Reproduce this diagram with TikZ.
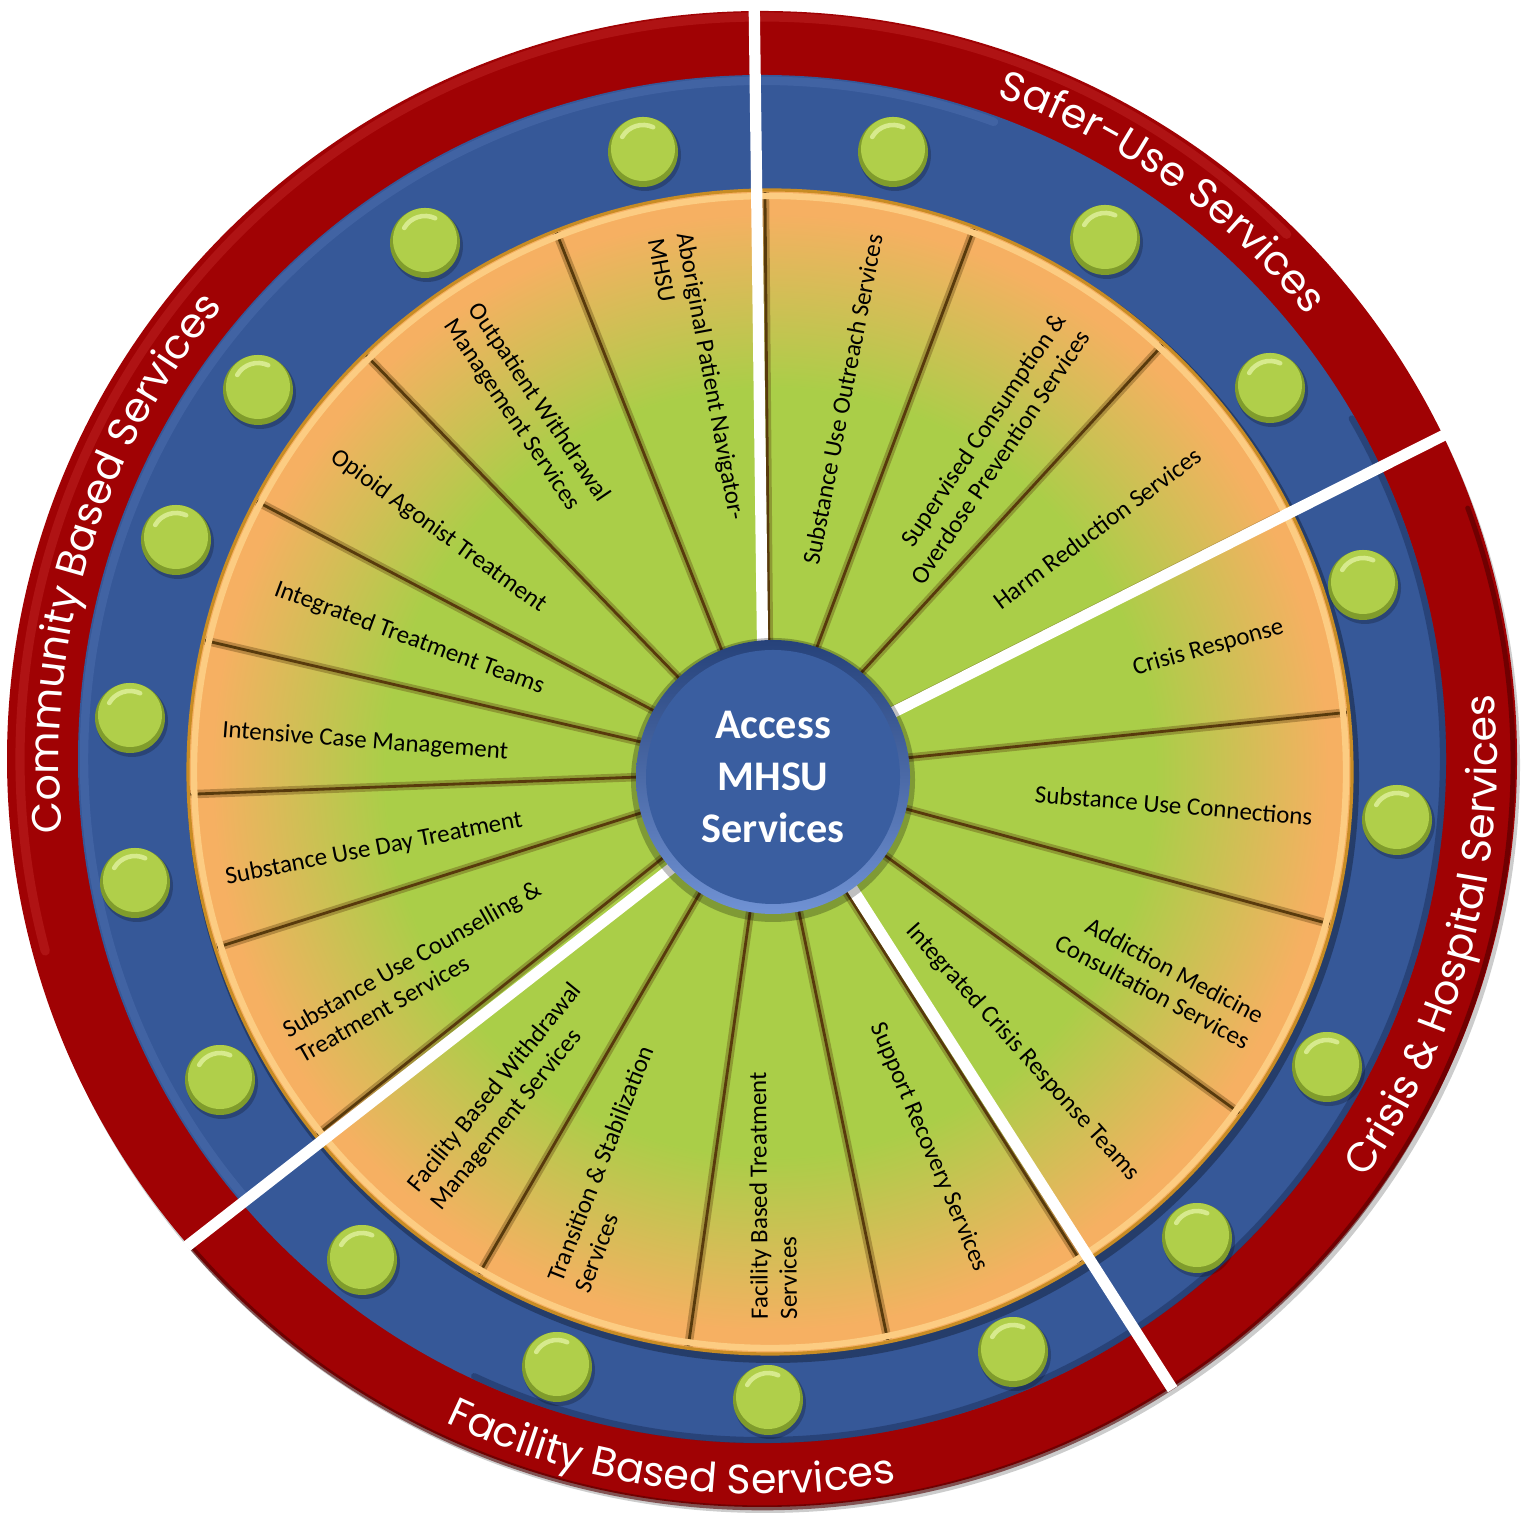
\documentclass[tikz,border=0pt]{standalone}
\usepackage{fontspec}
\setmainfont{Carlito}
\newfontfamily\ringfont{Poppins}
\usetikzlibrary{decorations.text,calc}
\definecolor{redring}{RGB}{160,2,4}
\definecolor{redhi}{RGB}{210,60,60}
\definecolor{reddark}{RGB}{80,0,0}
\definecolor{bluering}{RGB}{54,88,152}
\definecolor{bluehi}{RGB}{88,120,186}
\definecolor{bluedark}{RGB}{28,48,92}
\definecolor{pgreen}{RGB}{170,206,72}
\definecolor{porange}{RGB}{246,176,98}
\definecolor{rimlight}{RGB}{252,204,130}
\definecolor{rimgold}{RGB}{200,140,36}
\definecolor{seam}{RGB}{88,58,12}
\definecolor{ballmid}{RGB}{176,207,74}
\definecolor{balldark}{RGB}{128,156,44}
\definecolor{ballhi}{RGB}{220,238,150}
\definecolor{hubblue}{RGB}{58,94,160}
\definecolor{hubdark}{RGB}{38,66,122}
\definecolor{hubhi}{RGB}{112,146,212}
\pgfdeclareradialshading{pieshade}{\pgfpoint{0bp}{0bp}}{%
  color(0bp)=(pgreen); color(16.5bp)=(pgreen); color(24bp)=(porange); color(25bp)=(porange); color(50bp)=(porange)}
\tikzset{
  sep/.style={white, line width=3.2pt},
  seamshadow/.style={seam, line width=2.4pt, opacity=.35},
  seamline/.style={seam, line width=0.8pt},
  lablR/.style={anchor=east, align=right, font=\fontsize{7.1}{8.3}\selectfont, inner sep=0pt},
  lablL/.style={anchor=west, align=left, font=\fontsize{7.1}{8.3}\selectfont, inner sep=0pt},
  hubtext/.style={text=white, align=center, font=\bfseries\fontsize{12}{14.7}\selectfont},
  ringtext/.style={decorate, decoration={text along path, text align=center, text color=white, text={#1}}},
  pics/greenball/.style={code={
    \fill[black, opacity=.22] (2,-3) circle (36);
    \fill[balldark] (0,0) circle (35);
    \fill[ballmid] (0,3) circle (32);
    \draw[ballhi, line width=1.3pt, line cap=round, opacity=.9] (150:24) ++(0,3) arc[start angle=150, end angle=65, radius=24];
  }}
}
\begin{document}
\begin{tikzpicture}[x=0.01cm, y=0.01cm]
\useasboundingbox (0,0) rectangle (1528,1519);
\coordinate (O) at (762,760);
\coordinate (P) at (770,747);
\coordinate (H) at (773,742);
% outer red ring
\fill[black, opacity=.2] (765,754) ellipse [x radius=755, y radius=748];
\fill[redring] (O) ellipse [x radius=755, y radius=748];
\draw[redhi, line width=2.6pt, opacity=.3, line cap=round] (O) ++(45:742) arc[start angle=45, end angle=195, radius=742];
\draw[reddark, line width=1.4pt, opacity=.6, line cap=round] (O) ++(-140:751) arc[start angle=-140, end angle=20, x radius=751, y radius=745];
% blue ring
\fill[bluering] (O) circle (684);
\draw[bluehi, line width=2.4pt, opacity=.35, line cap=round] (O) ++(70:678) arc[start angle=70, end angle=220, radius=678];
\draw[bluedark, line width=1.8pt, opacity=.5, line cap=round] (O) ++(-115:681) arc[start angle=-115, end angle=30, radius=681];
% pie
\fill[black, opacity=.3] (773,742) circle (586);
\shade[shading=pieshade] (P) circle (582);
\foreach \b in {90.5,111.6,134.1,152.2,166.9,182.2,197.6,218.7,239.9,261.9,281.7,302.4,324,344.8,5.9,26.7,47.4,69.4}{
  \draw[seamshadow] (P) -- ++(\b:580);
  \draw[seamline] (P) -- ++(\b:580);
}
\draw[rimlight, line width=1.8pt] (P) circle (576);
\draw[rimgold, line width=0.9pt] (P) circle (582);
% wedge labels
\node[lablL, rotate=-79.5] (w1) at ($(P)+(100.5:546)$) {Aboriginal Patient Navigator-\\MHSU};
\node[lablL, rotate=-56] (w2) at ($(P)+(124:553)$) {Outpatient Withdrawal\\Management Services};
\node[lablL, rotate=-36] (w3) at ($(P)+(144:540)$) {Opioid Agonist Treatment};
\node[lablL, rotate=-20.3] (w4) at ($(P)+(159.7:528)$) {Integrated Treatment Teams};
\node[lablL, rotate=-4.3] (w5) at ($(P)+(175.7:550)$) {Intensive Case Management};
\node[lablL, rotate=11] (w6) at ($(P)+(191:555)$) {Substance Use Day Treatment};
\node[lablL, rotate=29.6] (w7) at ($(P)+(209.6:551)$) {Substance Use Counselling \&\\Treatment Services};
\node[lablL, rotate=51] (w8) at ($(P)+(231:549)$) {Facility Based Withdrawal\\Management Services};
\node[lablL, rotate=68.5] (w9) at ($(P)+(248.5:553)$) {Transition \& Stabilization\\Services};
\node[lablL, rotate=90.4] (w10) at ($(P)+(270.4:548)$) {Facility Based Treatment\\Services};
\node[lablR, rotate=-67] (w11) at ($(P)+(-67:542)$) {Support Recovery Services};
\node[lablR, rotate=-48] (w12) at ($(P)+(-48:546)$) {Integrated Crisis Response Teams};
\node[lablR, rotate=-28] (w13) at ($(P)+(-28:550)$) {Addiction Medicine\\Consultation Services};
\node[lablR, rotate=-4.7] (w14) at ($(P)+(-4.7:545)$) {Substance Use Connections};
\node[lablR, rotate=15.8] (w15) at ($(P)+(15.8:534)$) {Crisis Response};
\node[lablR, rotate=36.7] (w16) at ($(P)+(36.7:535)$) {Harm Reduction Services};
\node[lablR, rotate=56] (w17) at ($(P)+(56:541)$) {Supervised Consumption \&\\Overdose Prevention Services};
\node[lablR, rotate=79] (w18) at ($(P)+(79:548)$) {Substance Use Outreach Services};
% balls
\foreach \x/\y [count=\i] in {643/1367,425/1276,258/1129,176/979,130/801,135/636,220/439,362/259,557/152,768/119,1013/167,1197/281,1327/452,1397/699,1363/934,1270/1131,1105/1279,893/1367}{
  \pic (ball\i) at (\x,\y) {greenball};
}
% white separators
\coordinate (s1a) at (763,840);  \coordinate (s1b) at (754,1530);
\coordinate (s2a) at (860,790);  \coordinate (s2b) at (1500,1112);
\coordinate (s3a) at (830,665);  \coordinate (s3b) at (1200,87);
\coordinate (s4a) at (700,673);  \coordinate (s4b) at (150,244);
\begin{scope}
\clip (O) ellipse [x radius=757, y radius=750];
\draw[sep] (s1a) -- (s1b);
\draw[sep] (s2a) -- (s2b);
\draw[sep] (s3a) -- (s3b);
\draw[sep] (s4a) -- (s4b);
\end{scope}
% hub
\fill[black, opacity=.25] (773,739) circle (142);
\shade[top color=hubdark, bottom color=hubhi] (H) circle (137);
\fill[hubblue] (H) circle (127);
\node[hubtext] (hubtxt) at (H) {Access\\MHSU\\Services};
% ring texts
\path[ringtext={|\ringfont\fontsize{11.7}{14}\selectfont|Community Based Services}] (O) ++(203:703) arc[start angle=203, end angle=123, radius=703];
\path[ringtext={|\ringfont\fontsize{11.7}{14}\selectfont|Safer-Use Services}] (O) ++(94.8:703) arc[start angle=94.8, end angle=14.8, radius=703];
\path[ringtext={|\ringfont\fontsize{11.7}{14}\selectfont|Crisis {\&} Hospital Services}] (O) ++(-54.9:735) arc[start angle=-54.9, end angle=25.1, radius=735];
\path[ringtext={|\ringfont\fontsize{11.7}{14}\selectfont|Facility Based Services}] (O) ++(222.5:735) arc[start angle=222.5, end angle=302.5, radius=735];
\end{tikzpicture}
\end{document}
